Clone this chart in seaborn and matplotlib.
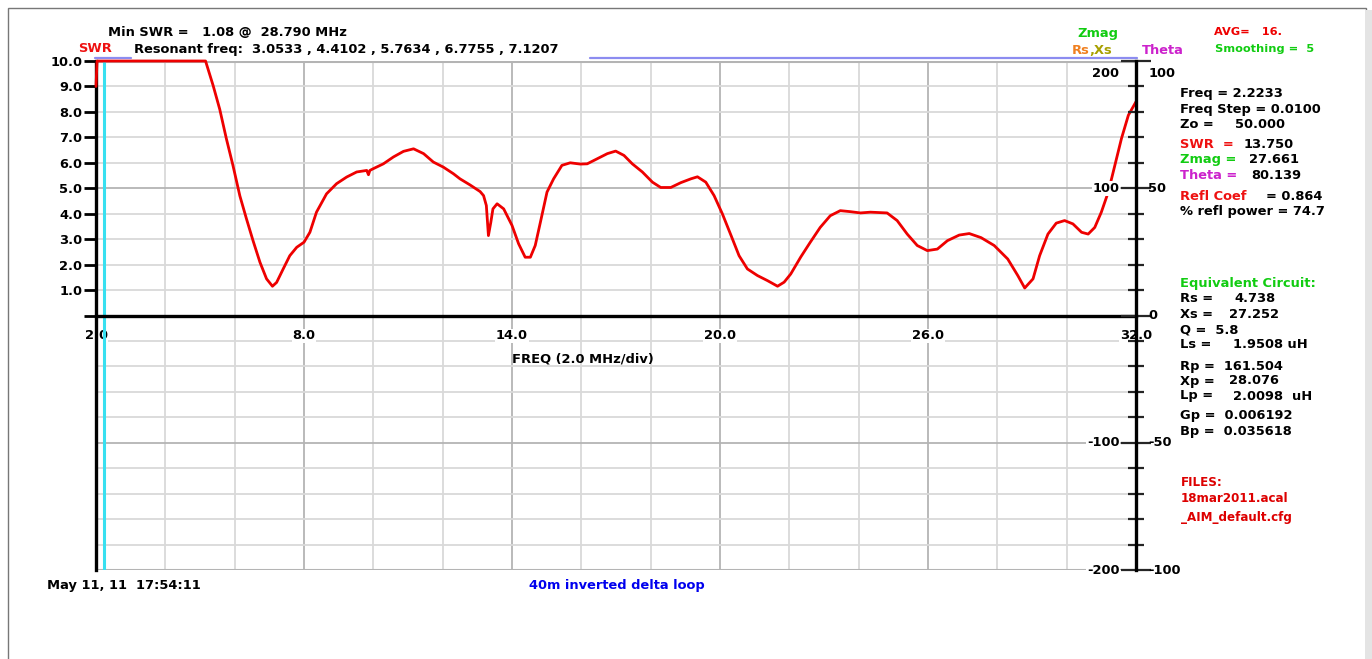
import numpy as np
import pandas as pd
import matplotlib
matplotlib.use("Agg")
import matplotlib.pyplot as plt
import matplotlib.transforms as mtrans
from matplotlib.lines import Line2D
from matplotlib.patches import Rectangle
import seaborn as sns

# ---------------- data ----------------
freq_mhz = [2.00, 2.03, 5.16, 5.38, 5.57, 5.76, 5.95, 6.15, 6.34, 6.53, 6.73, 6.92, 7.09, 7.21,
            7.40, 7.59, 7.79, 8.00, 8.17, 8.36, 8.65, 8.94, 9.23, 9.52, 9.81, 9.86, 9.90, 10.00,
            10.29, 10.58, 10.87, 11.16, 11.45, 11.73, 12.02, 12.31, 12.50, 12.79, 13.08, 13.18,
            13.26, 13.32, 13.39, 13.45, 13.57, 13.76, 14.00, 14.19, 14.38, 14.53, 14.67, 14.82,
            15.01, 15.20, 15.44, 15.68, 15.97, 16.17, 16.46, 16.75, 16.99, 17.23, 17.47, 17.76,
            18.05, 18.29, 18.58, 18.87, 19.16, 19.35, 19.59, 19.83, 20.07, 20.32, 20.55, 20.79,
            21.08, 21.37, 21.66, 21.85, 22.04, 22.33, 22.60, 22.89, 23.18, 23.47, 23.76, 24.05,
            24.34, 24.82, 25.11, 25.40, 25.69, 25.98, 26.27, 26.56, 26.90, 27.19, 27.53, 27.91,
            28.30, 28.59, 28.79, 29.03, 29.22, 29.46, 29.70, 29.94, 30.18, 30.43, 30.62, 30.81,
            31.00, 31.20, 31.39, 31.58, 31.78, 32.00]
swr = [9.00, 10.00, 10.00, 9.03, 8.10, 6.95, 5.90, 4.70, 3.80, 2.94, 2.09, 1.44, 1.15, 1.30,
       1.83, 2.35, 2.68, 2.88, 3.27, 4.06, 4.78, 5.18, 5.44, 5.64, 5.70, 5.53, 5.70, 5.77,
       5.96, 6.23, 6.45, 6.55, 6.36, 6.03, 5.83, 5.57, 5.37, 5.13, 4.87, 4.71,
       4.32, 3.14, 3.67, 4.19, 4.39, 4.19, 3.54, 2.82, 2.29, 2.29, 2.75, 3.67,
       4.85, 5.37, 5.90, 6.00, 5.95, 5.96, 6.16, 6.36, 6.46, 6.29, 5.96, 5.64,
       5.24, 5.03, 5.03, 5.22, 5.37, 5.45, 5.24, 4.71, 3.99, 3.14, 2.35, 1.83,
       1.57, 1.37, 1.15, 1.31, 1.63, 2.30, 2.87, 3.46, 3.92, 4.12, 4.08, 4.03,
       4.06, 4.03, 3.73, 3.20, 2.75, 2.55, 2.61, 2.94, 3.16, 3.22, 3.06, 2.75,
       2.22, 1.57, 1.08, 1.44, 2.35, 3.20, 3.63, 3.73, 3.60, 3.27, 3.20, 3.46,
       4.06, 4.85, 5.90, 6.95, 7.87, 8.40]

x_ticks = list(range(2, 33, 2))
x_tick_labels = {2: "2.0", 8: "8.0", 14: "14.0", 20: "20.0", 26: "26.0", 32: "32.0"}
swr_ticks = list(range(0, 11))
swr_tick_labels = ["", "1.0", "2.0", "3.0", "4.0", "5.0", "6.0", "7.0", "8.0", "9.0", "10.0"]
theta_ticks = [100, 50, 0, -50, -100]
theta_labels = ["100", "50", "0", "-50", "-100"]
zmag_ticks = [100, 50, -50, -100]          # positions on the theta scale
zmag_labels = ["200", "100", "-100", "-200"]
resonant_freqs = ["3.0533", "4.4102", "5.7634", "6.7755", "7.1207"]
cursor_freq = 2.2233

df = pd.DataFrame({"freq": freq_mhz, "swr": swr})

# ---------------- style ----------------
sns.set_style("white")
plt.rcParams["font.family"] = ["DejaVu Sans"]
plt.rcParams["font.weight"] = "bold"
FS = 9.4

W, H = 1372, 659
fig = plt.figure(figsize=(W / 100, H / 100), dpi=100)


def fx(x):
    return x / W


def fy(y):
    return 1 - y / H


L, R, T, B = 96, 1136, 61, 570
ax = fig.add_axes([fx(L), fy(B), (R - L) / W, (B - T) / H])
ax.set_xlim(2, 32)
ax.set_ylim(-10, 10)

# grid (manual, below data)
light, dark = "#d9d9d9", "#b4b4b4"
for xv in x_ticks:
    ax.axvline(xv, color=dark if xv in (8, 14, 20, 26) else light, lw=1.3, zorder=0.5)
for yv in range(-10, 11):
    c = dark if abs(yv) in (5, 10) else light
    ax.axhline(yv, color=c, lw=1.3 if abs(yv) != 10 else 2.2, zorder=0.5)

# cursor
ax.axvline(cursor_freq, color="#38e0f0", lw=2.2, zorder=1.5)

# SWR trace
sns.lineplot(data=df, x="freq", y="swr", ax=ax, color="#ee0000", lw=2.0, zorder=3,
             clip_on=False, sort=False)
ax.set_xlabel("")
ax.set_ylabel("")

# spines
ax.spines["top"].set_visible(False)
ax.spines["bottom"].set_position(("data", 0))
ax.spines["bottom"].set_linewidth(2.4)
ax.spines["bottom"].set_color("black")
ax.spines["left"].set_linewidth(2.4)
ax.spines["left"].set_color("black")
ax.spines["right"].set_visible(False)

ax.set_xticks(x_ticks)
ax.set_xticklabels([x_tick_labels.get(v, "") for v in x_ticks], fontsize=FS, fontweight="bold")
ax.tick_params(axis="x", direction="inout", length=8, width=1.6, pad=6, colors="black")
for lab in ax.get_xticklabels():
    lab.set_bbox(dict(facecolor="white", edgecolor="none", pad=0.5))

ax.set_yticks(swr_ticks)
ax.set_yticklabels(swr_tick_labels, fontsize=FS, fontweight="bold")
ax.tick_params(axis="y", direction="out", length=9, width=2.0, pad=1, colors="black")

# right (theta) axis
ax2 = ax.twinx()
ax2.set_ylim(-100, 100)
for s in ("top", "left", "bottom"):
    ax2.spines[s].set_visible(False)
ax2.spines["right"].set_linewidth(2.4)
ax2.spines["right"].set_color("black")
ax2.set_yticks(np.arange(-100, 101, 10), minor=True)
ax2.set_yticks(theta_ticks)
ax2.set_yticklabels([])
ax2.tick_params(axis="y", which="minor", direction="inout", length=11, width=1.6, right=True)
ax2.tick_params(axis="y", which="major", direction="inout", length=22, width=1.6, right=True)

tr = mtrans.blended_transform_factory(ax2.transAxes, ax2.transData)
for v, s in zip(theta_ticks, theta_labels):
    dy = -5 if v == 100 else 0
    ax2.text(1.012, v + dy, s, transform=tr, ha="left", va="center", fontsize=FS,
             fontweight="bold", color="black")
for v, s in zip(zmag_ticks, zmag_labels):
    dy = -5 if v == 100 else 0
    ax2.text(0.984, v + dy, s, transform=tr, ha="right", va="center", fontsize=FS,
             fontweight="bold", color="black",
             bbox=dict(facecolor="white", edgecolor="none", pad=0.6), zorder=4)

# ---------------- header / annotation text ----------------
def t(x, y, s, color="black", size=FS, ha="left"):
    fig.text(fx(x), fy(y), s, color=color, fontsize=size, fontweight="bold",
             ha=ha, va="center")


t(108, 33, "Min SWR =   1.08 @  28.790 MHz")
t(78, 49, "SWR", color="#ee1111")
t(134, 50, "Resonant freq:  " + " , ".join(resonant_freqs))
fig.add_artist(Line2D([fx(95), fx(131)], [fy(58), fy(58)], color="#8c8cf0", lw=1.6))
fig.add_artist(Line2D([fx(590), fx(1137)], [fy(58), fy(58)], color="#8c8cf0", lw=1.6))

t(1098, 34, "Zmag", color="#11cc11", ha="center")
t(1072, 51, "Rs", color="#f08020")
t(1089, 51, ",Xs", color="#a8a000")
t(1142, 51, "Theta", color="#cc22cc")
t(1214, 32, "AVG=   16.", color="#ee0000", size=8.2)
t(1215, 49, "Smoothing =  5", color="#11cc11", size=8.2)

t(1180, 94, "Freq = 2.2233")
t(1180, 109, "Freq Step = 0.0100")
t(1180, 124, "Zo =")
t(1235, 124, "50.000")
t(1180, 145, "SWR  =", color="#ee1111")
t(1244, 145, "13.750")
t(1180, 160, "Zmag =", color="#11cc11")
t(1249, 160, "27.661")
t(1180, 176, "Theta =", color="#cc22cc")
t(1251, 176, "80.139")
t(1180, 196, "Refl Coef", color="#ee1111")
t(1266, 196, "= 0.864")
t(1180, 212, "% refl power = 74.7")

t(1180, 284, "Equivalent Circuit:", color="#11cc11")
t(1180, 299, "Rs =")
t(1234, 299, "4.738")
t(1180, 314, "Xs =")
t(1229, 314, "27.252")
t(1180, 330, "Q =  5.8")
t(1180, 345, "Ls =")
t(1233, 345, "1.9508 uH")
t(1180, 366, "Rp =  161.504")
t(1180, 381, "Xp =")
t(1229, 381, "28.076")
t(1180, 396, "Lp =")
t(1233, 396, "2.0098  uH")
t(1180, 416, "Gp =  0.006192")
t(1180, 432, "Bp =  0.035618")
t(1181, 482, "FILES:", color="#dd0000", size=8.6)
t(1181, 499, "18mar2011.acal", color="#dd0000", size=8.6)
t(1181, 517, "_AIM_default.cfg", color="#dd0000", size=8.6)

t(512, 359, "FREQ (2.0 MHz/div)")
t(47, 585, "May 11, 11  17:54:11")
t(529, 585, "40m inverted delta loop", color="#0000ee")

# outer frame
fig.add_artist(Rectangle((fx(8), fy(700)), (1358) / W, (700 - 8) / H, fill=False,
                         edgecolor="#777777", lw=1.0, transform=fig.transFigure))
fig.add_artist(Rectangle((fx(1366), 0), 6 / W, fy(10), facecolor="#e4e4e4",
                         edgecolor="none", transform=fig.transFigure))

fig.savefig("out.png", dpi=100)
